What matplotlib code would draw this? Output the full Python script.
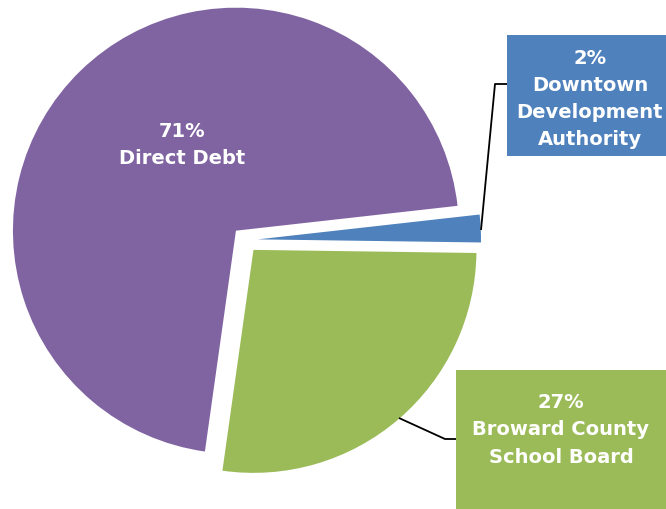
import matplotlib
matplotlib.use("Agg")
import matplotlib.pyplot as plt
from matplotlib.patches import Rectangle

# Data
categories = ["Direct Debt", "Downtown\nDevelopment\nAuthority", "Broward County\nSchool Board"]
values = [71, 2, 27]
colors = ["#8064A2", "#4F81BD", "#9BBB59"]

W, H = 666, 510
fig = plt.figure(figsize=(W / 100, H / 100), dpi=100)
ax = fig.add_axes([0, 0, 1, 1])

cx, cy = 245, H - 241
R = 223
wedges, _ = ax.pie(values, colors=colors, startangle=262, counterclock=False,
                   radius=R, center=(cx, cy), explode=[13, 13, 13],
                   wedgeprops=dict(linewidth=0))
ax.set_xlim(0, W)
ax.set_ylim(0, H)
ax.set_aspect("equal")
ax.axis("off")

font = dict(family=["DejaVu Sans"], weight="bold", color="white", fontsize=14)

def py(y):
    return H - y

# Direct Debt label inside purple
ax.text(182, py(145), f"{values[0]}%\n{categories[0]}", ha="center", va="center",
        linespacing=1.55, **font)

# Blue label box
ax.add_patch(Rectangle((507, py(157)), 170, 121, facecolor=colors[1], edgecolor="none", clip_on=True))
ax.text(590, py(99), f"{values[1]}%\n{categories[1]}", ha="center", va="center",
        linespacing=1.55, **font)
ax.plot([481, 495, 507], [py(231), py(85), py(85)], color="black", lw=1.3, solid_capstyle="butt")

# Green label box
ax.add_patch(Rectangle((456, py(515)), 215, 144, facecolor=colors[2], edgecolor="none"))
ax.text(561, py(430), f"{values[2]}%\n{categories[2]}", ha="center", va="center",
        linespacing=1.55, **font)
ax.plot([399, 445, 456], [py(419), py(440), py(440)], color="black", lw=1.3, solid_capstyle="butt")

fig.savefig("out.png", dpi=100)
